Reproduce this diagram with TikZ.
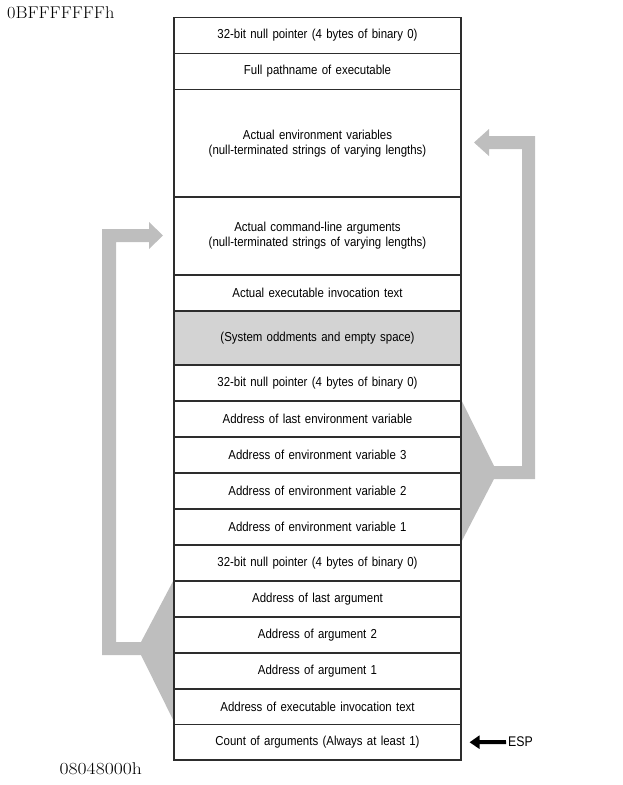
\documentclass[tikz,border=0pt]{standalone}
\usepackage{fontspec}
\usepackage{graphicx}
\newfontfamily\condf{Liberation Sans}[FakeStretch=0.88]
\usetikzlibrary{arrows.meta,calc,backgrounds}
\definecolor{arrowgray}{RGB}{190,190,190}
\definecolor{shadegray}{RGB}{211,211,211}
\definecolor{linegray}{RGB}{45,45,45}
\begin{document}
\begin{tikzpicture}[x=1pt,y=-1pt,
  cell/.style={draw=linegray, line width=1.1pt, minimum width=287pt, inner sep=0pt,
    font=\condf\fontsize{13}{15}\selectfont, align=center, text width=280pt},
  shaded/.style={cell, fill=shadegray},
  bigarrow/.style={fill=arrowgray, draw=none},
  esparrow/.style={line width=4pt, -{Triangle[length=10pt,width=13pt]}, black},
  addr/.style={inner sep=0pt, font=\fontsize{17}{17}\selectfont}
]
\useasboundingbox (0,0) rectangle (622,785);

\node[cell, minimum height=36pt] (r1) at (317.5,35.5) {32-bit null pointer (4 bytes of binary 0)};
\node[cell, minimum height=36pt] (r2) at (317.5,71.5) {Full pathname of executable};
\node[cell, minimum height=107.5pt] (r3) at (317.5,143.25) {Actual environment variables\\(null-terminated strings of varying lengths)};
\node[cell, minimum height=78pt] (r4) at (317.5,236) {Actual command-line arguments\\(null-terminated strings of varying lengths)};
\node[cell, minimum height=36pt] (r5) at (317.5,293) {Actual executable invocation text};
\node[shaded, minimum height=54pt] (r6) at (317.5,338) {(System oddments and empty space)};
\node[cell, minimum height=36pt] (r7) at (317.5,383) {32-bit null pointer (4 bytes of binary 0)};
\node[cell, minimum height=36pt] (r8) at (317.5,419) {Address of last environment variable};
\node[cell, minimum height=36pt] (r9) at (317.5,455) {Address of environment variable 3};
\node[cell, minimum height=36pt] (r10) at (317.5,491) {Address of environment variable 2};
\node[cell, minimum height=36pt] (r11) at (317.5,527) {Address of environment variable 1};
\node[cell, minimum height=36pt] (r12) at (317.5,563) {32-bit null pointer (4 bytes of binary 0)};
\node[cell, minimum height=36pt] (r13) at (317.5,599) {Address of last argument};
\node[cell, minimum height=36pt] (r14) at (317.5,635) {Address of argument 2};
\node[cell, minimum height=36pt] (r15) at (317.5,671) {Address of argument 1};
\node[cell, minimum height=35.5pt] (r16) at (317.5,706.75) {Address of executable invocation text};
\node[cell, minimum height=35.5pt] (r17) at (317.5,742.25) {Count of arguments (Always at least 1)};

\node[addr, anchor=base west] (top) at (7,18.3) {\scalebox{1.08}[1]{0BFFFFFFFh}};
\node[addr, anchor=base west] (bot) at (59.5,774) {\scalebox{1.155}[1]{08048000h}};

\node[inner sep=0pt, anchor=west, font=\condf\fontsize{14}{15}\selectfont] (esp) at (508,742) {ESP};
\draw[esparrow] ($(esp.west)+(-2,0)$) -- ($(r17.east)+(8,0)$);

\begin{scope}[on background layer]
\fill[bigarrow] (r8.north east) -- (494,466) -- (522,466) -- (522,149) -- (489,149)
  -- (489,156) -- (474,142.5) -- (489,129) -- (489,136) -- (535,136) -- (535,479)
  -- (494,479) -- ($(r11.south east)+(0,-4)$) -- cycle;
\fill[bigarrow] (r13.north west) -- (141,642) -- (116,642) -- (116,242) -- (149,242)
  -- (149,249) -- (163,235.5) -- (149,222) -- (149,229) -- (102,229) -- (102,655)
  -- (141,655) -- ($(r16.south west)+(0,-4.5)$) -- cycle;
\end{scope}
\end{tikzpicture}
\end{document}
